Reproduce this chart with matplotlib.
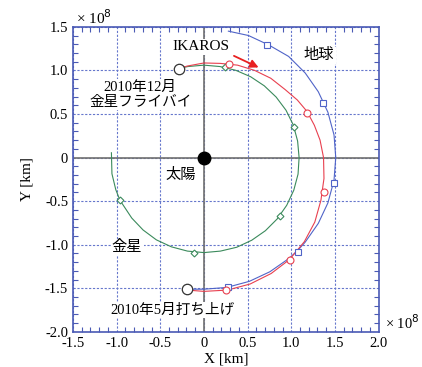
import numpy as np
import matplotlib
matplotlib.use('Agg')
import matplotlib.pyplot as plt
from matplotlib.ticker import MultipleLocator

plt.rcParams['font.family'] = ['Liberation Serif', 'Noto Sans CJK JP']

# orbits, units of 1e8 km
earth_x = [-0.19, 0.0, 0.26, 0.52, 0.755, 0.97, 1.07, 1.16, 1.31, 1.42, 1.49, 1.51,
           1.49, 1.42, 1.31, 1.16, 0.97, 0.745, 0.51, 0.28]
earth_y = [-1.51, -1.51, -1.49, -1.42, -1.31, -1.16, -1.07, -0.97, -0.755, -0.52, -0.26, 0.0,
           0.26, 0.52, 0.755, 0.97, 1.16, 1.29, 1.40, 1.45]

ikaros_x = [-0.19, 0.0, 0.27, 0.53, 0.77, 0.98, 1.15, 1.27, 1.34, 1.375, 1.37, 1.33, 1.265,
            1.18, 1.07, 0.93, 0.765, 0.58, 0.385, 0.19, 0.0, -0.19, -0.29]
ikaros_y = [-1.52, -1.535, -1.52, -1.45, -1.33, -1.17, -0.965, -0.74, -0.49, -0.24, 0.0, 0.2,
            0.37, 0.53, 0.66, 0.78, 0.91, 1.00, 1.06, 1.08, 1.085, 1.05, 1.02]

venus_x = [-1.06, -1.054, -1.01, -0.962, -0.827, -0.697, -0.545, -0.373, -0.189, 0.0, 0.189,
           0.375, 0.548, 0.704, 0.839, 0.948, 1.029, 1.078, 1.09, 1.073, 1.024, 0.94, 0.827,
           0.691, 0.535, 0.364, 0.184, 0.0, -0.184, -0.29]
venus_y = [0.055, -0.186, -0.368, -0.49, -0.694, -0.831, -0.944, -1.024, -1.073, -1.09, -1.073,
           -1.029, -0.948, -0.839, -0.704, -0.548, -0.375, -0.19, 0.0, 0.189, 0.373, 0.543, 0.694,
           0.823, 0.927, 1.001, 1.044, 1.06, 1.044, 1.02]

# monthly markers
earth_mx = [0.27, 1.08, 1.49, 1.36, 0.72]
earth_my = [-1.49, -1.08, -0.29, 0.63, 1.29]
ikaros_mx = [0.25, 0.99, 1.37, 1.175, 0.285]
ikaros_my = [-1.52, -1.17, -0.40, 0.51, 1.07]
venus_mx = [-0.96, -0.11, 0.87, 1.03, 0.245]
venus_my = [-0.49, -1.09, -0.67, 0.35, 1.04]

# launch / flyby
event_x = [-0.19, -0.29]
event_y = [-1.51, 1.02]

xticks = [-1.5, -1.0, -0.5, 0, 0.5, 1.0, 1.5, 2.0]
xlabels = ['-1.5', '-1.0', '-0.5', '0', '0.5', '1.0', '1.5', '2.0']
yticks = [-2.0, -1.5, -1.0, -0.5, 0, 0.5, 1.0, 1.5]
ylabels = ['-2.0', '-1.5', '-1.0', '-0.5', '0', '0.5', '1.0', '1.5']

blue = '#5064c8'
red = '#e8404f'
green = '#3b8a5c'
axcol = '#4a5ab5'

fig = plt.figure(figsize=(4.22, 3.67), dpi=100)
ax = fig.add_axes([0.173, 0.0956, 0.724, 0.8314])

ax.set_xlim(-1.5, 2.0)
ax.set_ylim(-2.0, 1.5)
ax.set_xticks(xticks)
ax.set_xticklabels(xlabels)
ax.set_yticks(yticks)
ax.set_yticklabels(ylabels)
ax.xaxis.set_minor_locator(MultipleLocator(0.1))
ax.yaxis.set_minor_locator(MultipleLocator(0.1))
ax.tick_params(which='both', direction='in', top=True, right=True, color=axcol,
               labelsize=10.5)
ax.tick_params(which='major', length=0)
ax.tick_params(which='minor', length=3.5, width=0.8)
for s in ax.spines.values():
    s.set_color(axcol)
    s.set_linewidth(1.2)
ax.grid(True, which='major', color='#6677cc', linestyle=(0, (2, 1.5)), linewidth=0.8)
ax.set_axisbelow(True)

ax.axhline(0, color='#707070', linewidth=1.2, zorder=1)
ax.axvline(0, color='#707070', linewidth=1.2, zorder=1)

ax.plot(earth_x, earth_y, color=blue, linewidth=0.8, zorder=4)
ax.plot(venus_x, venus_y, color=green, linewidth=0.8, zorder=4)
ax.plot(ikaros_x, ikaros_y, color=red, linewidth=0.8, zorder=5)

ax.plot(earth_mx, earth_my, 's', mfc='white', mec=blue, ms=5, mew=0.8, zorder=6)
ax.plot(venus_mx, venus_my, 'D', mfc='white', mec=green, ms=3.5, mew=0.8, zorder=6)
ax.plot(ikaros_mx, ikaros_my, 'o', mfc='white', mec=red, ms=5, mew=0.8, zorder=6)
ax.plot(event_x, event_y, 'o', mfc='white', mec='#333333', ms=7.5, mew=0.9, zorder=7)
ax.plot([0], [0], 'o', color='black', ms=9, zorder=7)

box = dict(facecolor='white', edgecolor='none', pad=1)
ax.text(-0.04, 1.27, 'IKAROS', fontsize=11, ha='center', va='center', bbox=box, zorder=3)
ax.text(1.32, 1.175, '地球', fontsize=11, ha='center', va='center', bbox=box, zorder=3)
ax.text(-0.73, 0.72, '2010年12月\n金星フライバイ', fontsize=10.5, ha='center', va='center',
        linespacing=1.2, bbox=box, zorder=3)
ax.text(-0.27, -0.2, '太陽', fontsize=11, ha='center', va='center', bbox=box, zorder=3)
ax.text(-0.88, -1.03, '金星', fontsize=11, ha='center', va='center', bbox=box, zorder=3)
ax.text(-0.355, -1.75, '2010年5月打ち上げ', fontsize=10.5, ha='center', va='center',
        bbox=box, zorder=3)

ax.annotate('', xy=(0.655, 1.02), xytext=(0.315, 1.18),
            arrowprops=dict(arrowstyle='-|>', color='#e82020', lw=1.3, mutation_scale=12),
            zorder=8)

ax.text(0.01, 1.0, '× 10$^{8}$', transform=ax.transAxes, fontsize=11, ha='left', va='bottom')
ax.text(1.022, 0.032, '× 10$^{8}$', transform=ax.transAxes, fontsize=10.5, ha='left',
        va='center')

ax.set_xlabel('X [km]', fontsize=11, labelpad=2)
ax.set_ylabel('Y [km]', fontsize=11, labelpad=8)

fig.savefig('out.png', dpi=100)
